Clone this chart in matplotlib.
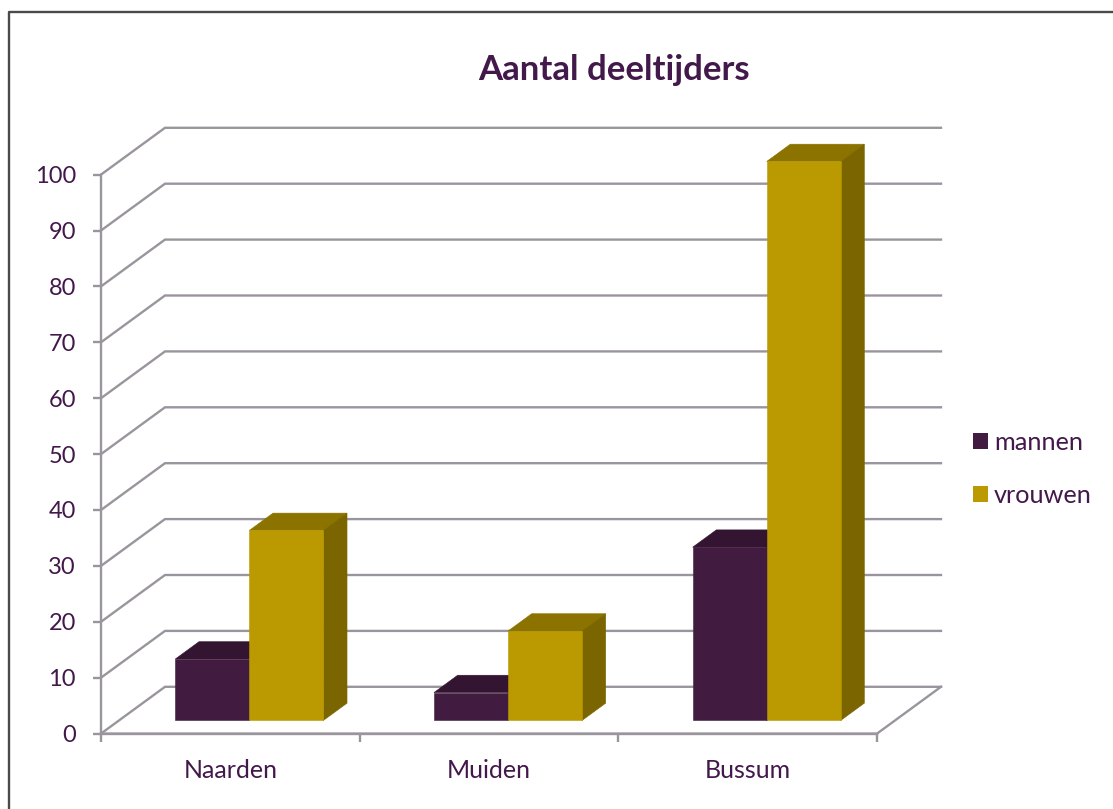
import matplotlib
matplotlib.use('Agg')
import matplotlib.pyplot as plt
from matplotlib.lines import Line2D
from matplotlib.patches import Patch

plt.rcParams['font.family'] = ['Lato', 'DejaVu Sans']

plaatsen = ['Naarden', 'Muiden', 'Bussum']
mannen = [11, 5, 31]
vrouwen = [34, 16, 100]
yticks = list(range(0, 101, 10))

W, H = 1113, 809
paars = '#421C40'
paars_top = '#331531'
goud = '#BA9A00'
goud_top = '#8C7300'
goud_zij = '#7B6500'
grid = '#9A959D'
tekst = '#43184A'

fig = plt.figure(figsize=(W/100, H/100), dpi=100)
ax = fig.add_axes([101/W, 1-733.6/H, 776/W, 559/H])
ax.set_xlim(0, 3)
ax.set_ylim(0, 100)
ax.patch.set_alpha(0)

# depth of the 3d box, in data units
DX = 64/(776/3)
DY = 46.8/5.59

def p(x, y, d):
    return x + d*DX, y + d*DY

def poly(pts, color, z):
    ax.fill([q[0] for q in pts], [q[1] for q in pts], facecolor=color, edgecolor=color, lw=0.4, zorder=z, clip_on=False)

# walls
for v in yticks:
    ax.plot(*zip(p(0, v, 0), p(0, v, 1), p(3, v, 1)), color=grid, lw=1.7, zorder=1, clip_on=False, solid_joinstyle='miter')
ax.plot(*zip(p(0, 0, 0), p(3, 0, 0), p(3, 0, 1)), color=grid, lw=1.7, zorder=1, clip_on=False)

# bars
bw = 74/(776/3)
d0, d1 = 0.28, 0.65

def bar(x, v, front, top, side, z):
    poly([p(x, v, d0), p(x, v, d1), p(x+bw, v, d1), p(x+bw, v, d0)], top, z)
    poly([p(x+bw, 0, d0), p(x+bw, 0, d1), p(x+bw, v, d1), p(x+bw, v, d0)], side, z)
    poly([p(x, 0, d0), p(x+bw, 0, d0), p(x+bw, v, d0), p(x, v, d0)], front, z+0.1)

for i in range(len(plaatsen)):
    mid = i + 0.5 + 19/(776/3) - d0*DX
    bar(mid-bw, mannen[i], paars, paars_top, paars_top, 3+i)
    bar(mid, vrouwen[i], goud, goud_top, goud_zij, 3.5+i)

for s in ['top', 'right']:
    ax.spines[s].set_visible(False)
for s in ['left', 'bottom']:
    ax.spines[s].set_color(grid)
    ax.spines[s].set_linewidth(1.7)

ax.set_yticks(yticks)
ax.set_xticks([0, 1, 2, 3])
ax.set_xticklabels([])
ax.set_xticks([0.5, 1.5, 2.5], minor=True)
ax.set_xticklabels(plaatsen, minor=True)
ax.tick_params(axis='y', length=6, width=1.7, color=grid, labelcolor=tekst, labelsize=17, pad=12)
ax.tick_params(axis='x', which='major', length=6, width=1.7, color=grid)
ax.tick_params(axis='x', which='minor', length=0, labelcolor=tekst, labelsize=18, pad=18)

fig.text(614/W, 1-70/H, 'Aantal deeltijders', color=tekst, fontsize=25, fontweight='bold', ha='center', va='center')

handles = [Patch(facecolor=paars, lw=0), Patch(facecolor=goud, lw=0)]
fig.legend(handles, ['mannen', 'vrouwen'], loc='center left', bbox_to_anchor=(973/W, 1-469/H), frameon=False,
           fontsize=18.2, labelcolor=tekst, handlelength=0.58, handleheight=0.58, handletextpad=0.25,
           labelspacing=1.2, borderpad=0, borderaxespad=0)

# frame around the chart
fig.add_artist(Line2D([9/W, 9/W, 1], [0, 1-12/H, 1-12/H], color='#4A4A4A', lw=1.7))

fig.savefig('out.png', dpi=100)
